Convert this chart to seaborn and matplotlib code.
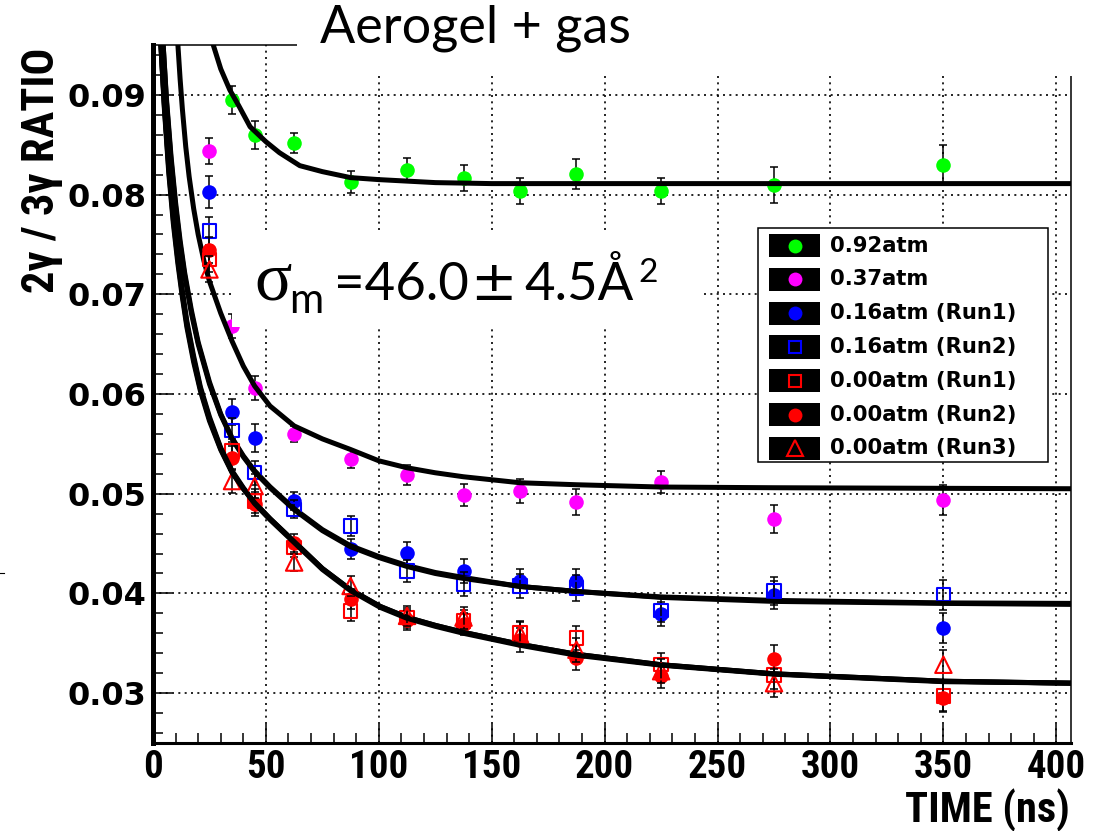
import matplotlib
matplotlib.use("Agg")
import matplotlib.pyplot as plt
import seaborn as sns
from matplotlib.patches import Rectangle
from matplotlib.ticker import MultipleLocator, FixedLocator, FixedFormatter

# ---------------- data ----------------
times = [25, 35, 45, 62.5, 87.5, 112.5, 137.5, 162.5, 187.5, 225, 275, 350]
times_092 = [35, 45, 62.5, 87.5, 112.5, 137.5, 162.5, 187.5, 225, 275, 350]

ratio_092 = [0.08945, 0.08594, 0.0852, 0.0813, 0.0825, 0.0817, 0.0804, 0.0821, 0.0804, 0.0810, 0.0830]
err_092 = [0.0014, 0.0014, 0.0010, 0.0011, 0.0012, 0.0013, 0.0013, 0.0015, 0.0013, 0.0018, 0.0020]

ratio_037 = [0.0844, 0.0668, 0.0606, 0.05595, 0.05352, 0.05187, 0.04987, 0.05027, 0.0492, 0.05117, 0.04749, 0.04933]
err_037 = [0.0013, 0.0012, 0.0012, 0.0008, 0.0009, 0.0010, 0.0011, 0.0012, 0.0013, 0.0011, 0.0014, 0.0015]

ratio_016_r1 = [0.08023, 0.05819, 0.05562, 0.04927, 0.04443, 0.0441, 0.04225, 0.04122, 0.0412, 0.03797, 0.03988, 0.03653]
err_016_r1 = [0.0016, 0.0013, 0.0014, 0.0009, 0.0010, 0.0011, 0.0012, 0.0012, 0.0013, 0.0012, 0.0014, 0.0015]

ratio_016_r2 = [0.07632, 0.05635, 0.05211, 0.04844, 0.04676, 0.04225, 0.04092, 0.04072, 0.04055, 0.03831, 0.04022, 0.03988]
err_016_r2 = [0.0014, 0.0012, 0.0012, 0.0009, 0.0010, 0.0011, 0.0012, 0.0012, 0.0013, 0.0012, 0.0014, 0.0015]

ratio_000_r1 = [0.07349, 0.05427, 0.04927, 0.0446, 0.03825, 0.03758, 0.03725, 0.03603, 0.03553, 0.03285, 0.03184, 0.02973]
err_000_r1 = [0.0013, 0.0012, 0.0012, 0.0009, 0.0010, 0.0010, 0.0011, 0.0012, 0.0012, 0.0012, 0.0014, 0.0015]

ratio_000_r2 = [0.07442, 0.05362, 0.04894, 0.0451, 0.03942, 0.03735, 0.03691, 0.03536, 0.03352, 0.03167, 0.03342, 0.02956]
err_000_r2 = [0.0013, 0.0012, 0.0012, 0.0009, 0.0010, 0.0010, 0.0011, 0.0012, 0.0012, 0.0012, 0.0014, 0.0015]

ratio_000_r3 = [0.07249, 0.05127, 0.05077, 0.0431, 0.04075, 0.03775, 0.03758, 0.03591, 0.03436, 0.0322, 0.0310, 0.03285]
err_000_r3 = [0.0013, 0.0012, 0.0012, 0.0009, 0.0010, 0.0010, 0.0011, 0.0012, 0.0012, 0.0012, 0.0014, 0.0015]

# fit curves
fit_092_t = [26, 30, 34, 38, 43, 50, 56, 65, 75, 87.5, 100, 125, 150, 200, 300, 406.5]
fit_092_v = [0.0955, 0.0926, 0.0905, 0.0889, 0.0868, 0.0853, 0.0842, 0.0829, 0.0823, 0.0817, 0.0815, 0.0812, 0.0811, 0.0811, 0.0811, 0.0811]

fit_037_t = [11, 12, 13, 14.5, 16, 18, 20, 22.5, 25, 30, 35, 40, 45, 51.8, 62.5, 75, 87.3, 100, 112.5, 125, 137.5, 162.5, 187.5, 225, 275, 350, 406.5]
fit_037_v = [0.0951, 0.0916, 0.0886, 0.0848, 0.0818, 0.0786, 0.0760, 0.0734, 0.0713, 0.0681, 0.0653, 0.0628, 0.0608, 0.0588, 0.0568, 0.0555, 0.05445, 0.0533, 0.0526, 0.0521, 0.0517, 0.0511, 0.0509, 0.05067, 0.0506, 0.05054, 0.0505]

fit_016_t = [4.5, 6, 8, 10, 12, 14, 17, 20, 25, 30, 35, 40, 45, 51.8, 62.5, 75, 87.3, 100, 112.5, 125, 137.5, 162.5, 187.5, 225, 275, 350, 406.5]
fit_016_r1_v = [0.0950, 0.0895, 0.0838, 0.0792, 0.0754, 0.0722, 0.0684, 0.0652, 0.0612, 0.0580, 0.0556, 0.0538, 0.0523, 0.0507, 0.0485, 0.0464, 0.0448, 0.0437, 0.0428, 0.0421, 0.0416, 0.0407, 0.0402, 0.03965, 0.0393, 0.03905, 0.0390]
fit_016_r2_v = [0.0950, 0.0892, 0.0834, 0.0788, 0.0750, 0.0719, 0.0681, 0.0650, 0.0610, 0.0579, 0.0555, 0.0537, 0.0522, 0.0506, 0.0484, 0.0463, 0.0447, 0.0436, 0.0427, 0.0420, 0.0415, 0.0407, 0.0402, 0.03960, 0.0392, 0.03900, 0.0389]

fit_000_t = [3.5, 5, 7, 9, 11, 13, 15, 18, 21, 25, 30, 35, 40, 45, 51.8, 62.5, 75, 87.3, 100.6, 112.5, 125, 137.5, 150, 162.5, 187.5, 225, 275, 350, 406.5]
fit_000_r1_v = [0.0950, 0.0890, 0.0825, 0.0775, 0.0735, 0.0700, 0.0670, 0.0635, 0.0605, 0.0575, 0.0545, 0.0522, 0.0505, 0.0491, 0.0475, 0.0452, 0.0425, 0.0404, 0.0387, 0.0376, 0.0368, 0.0361, 0.0355, 0.0349, 0.0339, 0.03285, 0.03194, 0.03120, 0.0310]
fit_000_r2_v = [0.0950, 0.0893, 0.0829, 0.0779, 0.0739, 0.0704, 0.0673, 0.0638, 0.0607, 0.0577, 0.0546, 0.0523, 0.0506, 0.0491, 0.0475, 0.0452, 0.0425, 0.0404, 0.0387, 0.0376, 0.0368, 0.0361, 0.0355, 0.0349, 0.0339, 0.03285, 0.03194, 0.03120, 0.0310]
fit_000_r3_v = [0.0950, 0.0887, 0.0821, 0.0771, 0.0731, 0.0697, 0.0667, 0.0632, 0.0603, 0.0573, 0.0544, 0.0521, 0.0505, 0.0490, 0.0474, 0.0451, 0.0424, 0.0403, 0.0386, 0.0375, 0.0367, 0.0360, 0.0354, 0.0348, 0.0338, 0.03280, 0.03190, 0.03115, 0.0310]

legend_labels = ["0.92atm", "0.37atm", "0.16atm (Run1)", "0.16atm (Run2)",
                 "0.00atm (Run1)", "0.00atm (Run2)", "0.00atm (Run3)"]
xtick_values = [0, 50, 100, 150, 200, 250, 300, 350, 400]
xtick_labels = ["0", "50", "100", "150", "200", "250", "300", "350", "400"]
ytick_values = [0.03, 0.04, 0.05, 0.06, 0.07, 0.08, 0.09]
ytick_labels = ["0.03", "0.04", "0.05", "0.06", "0.07", "0.08", "0.09"]
title_text = "Aerogel + gas"
xlabel_text = "TIME (ns)"
ylabel_text = "2\u03b3 / 3\u03b3 RATIO"

NARROW = ["Liberation Sans Narrow", "Arial Narrow", "Roboto Condensed",
          "Liberation Sans", "DejaVu Sans"]

# ---------------- figure ----------------
W, H = 1108, 831
fig = plt.figure(figsize=(W / 100, H / 100), dpi=100)
fig.patch.set_facecolor("white")
ax = fig.add_axes([153 / W, (H - 743) / H, (1071 - 153) / W, (743 - 45) / H])
ax.set_xlim(0, 406.5)
ax.set_ylim(0.025, 0.095)

GREEN, MAGENTA, BLUE, RED = "#00ff00", "#ff00ff", "#0000ff", "#ff0000"

series = [
    dict(t=times_092, v=ratio_092, e=err_092, c=GREEN, m="o", filled=True,
         fits=[(fit_092_t, fit_092_v)]),
    dict(t=times, v=ratio_037, e=err_037, c=MAGENTA, m="o", filled=True,
         fits=[(fit_037_t, fit_037_v)]),
    dict(t=times, v=ratio_016_r1, e=err_016_r1, c=BLUE, m="o", filled=True,
         fits=[(fit_016_t, fit_016_r1_v)]),
    dict(t=times, v=ratio_016_r2, e=err_016_r2, c=BLUE, m="s", filled=False,
         fits=[(fit_016_t, fit_016_r2_v)]),
    dict(t=times, v=ratio_000_r1, e=err_000_r1, c=RED, m="s", filled=False,
         fits=[(fit_000_t, fit_000_r1_v)]),
    dict(t=times, v=ratio_000_r2, e=err_000_r2, c=RED, m="o", filled=True,
         fits=[(fit_000_t, fit_000_r2_v)]),
    dict(t=times, v=ratio_000_r3, e=err_000_r3, c=RED, m="^", filled=False,
         fits=[(fit_000_t, fit_000_r3_v)]),
]

z = 3
for s in series:
    ax.errorbar(s["t"], s["v"], yerr=s["e"], fmt="none", ecolor="black",
                elinewidth=1.1, capsize=3.2, capthick=1.1, zorder=z)
    if s["filled"]:
        sns.scatterplot(x=s["t"], y=s["v"], ax=ax, marker="o", s=110,
                        color=s["c"], edgecolor=s["c"], linewidth=0,
                        legend=False, zorder=z + 1)
    else:
        size = 95 if s["m"] == "s" else 140
        sns.scatterplot(x=s["t"], y=s["v"], ax=ax, marker=s["m"], s=size,
                        facecolor="none", edgecolor=s["c"], linewidth=1.5,
                        legend=False, zorder=z + 1)
    for ft, fv in s["fits"]:
        sns.lineplot(x=ft, y=fv, ax=ax, color="black", linewidth=3.6,
                     sort=False, estimator=None, legend=False, zorder=z + 2)
    z += 3

# axes styling (ROOT-like)
for side in ["left", "bottom", "right", "top"]:
    ax.spines[side].set_color("black")
ax.spines["left"].set_linewidth(3.6)
ax.spines["bottom"].set_linewidth(2.2)
ax.spines["right"].set_linewidth(1.1)
ax.spines["top"].set_linewidth(1.1)

ax.xaxis.set_major_locator(FixedLocator(xtick_values))
ax.xaxis.set_major_formatter(FixedFormatter(xtick_labels))
ax.xaxis.set_minor_locator(MultipleLocator(10))
ax.yaxis.set_major_locator(FixedLocator(ytick_values))
ax.yaxis.set_major_formatter(FixedFormatter(ytick_labels))
ax.yaxis.set_minor_locator(MultipleLocator(0.002))
ax.tick_params(which="both", direction="in", color="black", width=1.1,
               top=False, right=False)
ax.tick_params(which="major", length=14)
ax.tick_params(which="minor", length=7)
ax.tick_params(axis="y", which="major", pad=5)
ax.tick_params(axis="x", which="major", pad=4)
for lab in ax.get_yticklabels():
    lab.set_fontfamily(["DejaVu Sans"])
    lab.set_fontweight("bold")
    lab.set_fontsize(23)
for lab in ax.get_xticklabels():
    lab.set_fontfamily(NARROW)
    lab.set_fontweight("bold")
    lab.set_fontsize(28)

ax.grid(True, which="major", color="black", linestyle=(0, (1.2, 2.6)),
        linewidth=1.2)
ax.set_axisbelow(True)
ax.set_xlabel("")
ax.set_ylabel("")

# ---------------- overlay in pixel coordinates ----------------
ov = fig.add_axes([0, 0, 1, 1], zorder=10)
ov.set_xlim(0, W)
ov.set_ylim(H, 0)
ov.axis("off")
ov.patch.set_alpha(0)

# white boxes behind the title and the sigma annotation
ov.add_patch(Rectangle((297, 0), W - 297, 76, facecolor="white", edgecolor="none", zorder=1))
ov.add_patch(Rectangle((232, 232), 468, 95, facecolor="white", edgecolor="none", zorder=1))

ov.text(320, 43, title_text, fontfamily=["Lato", "DejaVu Sans"], fontsize=37.5,
        ha="left", va="baseline", zorder=2)

ov.text(254, 300, "\u03c3", fontfamily=["Liberation Serif", "DejaVu Serif"], fontsize=50,
        ha="left", va="baseline", zorder=2)
ov.text(289, 313, "m", fontfamily=["Lato", "DejaVu Sans"], fontsize=30,
        ha="left", va="baseline", zorder=2)
ov.text(334, 300, "=46.0", fontfamily=["Lato", "DejaVu Sans"], fontsize=38,
        ha="left", va="baseline", zorder=2)
ov.text(470, 300, "\u00b1", fontfamily=["DejaVu Sans"], fontsize=40,
        ha="left", va="baseline", zorder=2)
ov.text(524, 300, "4.5\u00c5", fontfamily=["Lato", "DejaVu Sans"], fontsize=38,
        ha="left", va="baseline", zorder=2)
ov.text(638, 282, "2", fontfamily=["Lato", "DejaVu Sans"], fontsize=24,
        ha="left", va="baseline", zorder=2)

# axis titles
ov.text(42, 48, ylabel_text, rotation=90, ha="center", va="top",
        fontfamily=NARROW, fontweight="bold", fontsize=32, zorder=2)
ov.text(1070, 823, xlabel_text, ha="right", va="baseline",
        fontfamily=NARROW, fontweight="bold", fontsize=30.5, zorder=2)

# small stray tick at the left edge
ov.plot([0, 4], [573, 573], color="black", linewidth=0.8, zorder=2)

# legend (ROOT style: black boxes with marker)
ov.add_patch(Rectangle((758.3, 228.3), 290, 233.4, facecolor="white",
                       edgecolor="black", linewidth=1.1, zorder=3))
for i, (lab, s) in enumerate(zip(legend_labels, series)):
    yc = 245.7 + i * 33.77
    ov.add_patch(Rectangle((769.3, yc - 11.7), 50.7, 23.3, facecolor="black",
                           edgecolor="none", zorder=4))
    if s["filled"]:
        ov.plot([795], [yc], marker="o", markersize=10, color=s["c"],
                markeredgewidth=0, linestyle="none", zorder=5)
    else:
        ms = 9 if s["m"] == "s" else 11
        ov.plot([795], [yc], marker=s["m"], markersize=ms, markerfacecolor="none",
                markeredgecolor=s["c"], markeredgewidth=1.5, linestyle="none", zorder=5)
    ov.text(830, yc + 6, lab, fontfamily=["DejaVu Sans"], fontweight="bold",
            fontsize=15.2, ha="left", va="baseline", zorder=5)

fig.savefig("out.png", dpi=100, facecolor="white")
